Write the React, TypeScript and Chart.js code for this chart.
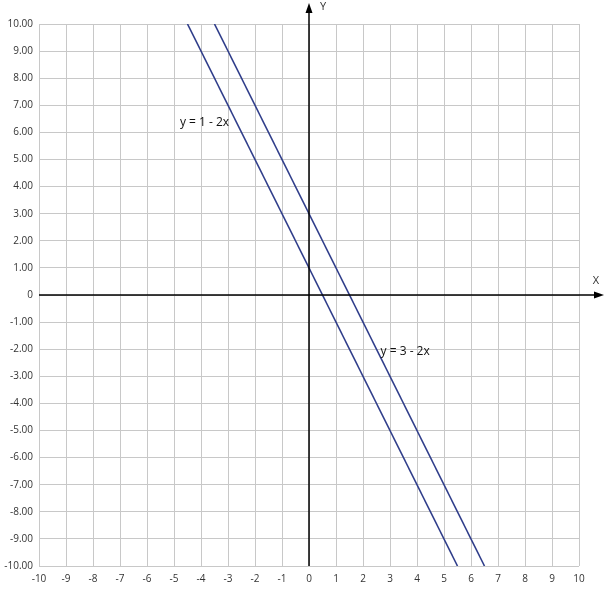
import React, { useEffect, useRef } from "react";
import { Chart, registerables } from "chart.js";

Chart.register(...registerables);

const line1X = [-4.5, 5.5];
const line1Y = [10, -10];
const line2X = [-3.5, 6.5];
const line2Y = [10, -10];
const lineLabels = ["y = 1 - 2x", "y = 3 - 2x"];
const labelX = [-4.78, 2.65];
const labelY = [6.35, -2.07];
const axisMin = -10;
const axisMax = 10;

const FONT = "'Open Sans', 'DejaVu Sans', sans-serif";

const overlay = {
  id: "overlay",
  afterDatasetsDraw(chart: any) {
    const ctx = chart.ctx;
    const xs = chart.scales.x;
    const ys = chart.scales.y;
    const ox = xs.getPixelForValue(0);
    const oy = ys.getPixelForValue(0);
    const ca = chart.chartArea;
    ctx.save();
    ctx.strokeStyle = "#000";
    ctx.fillStyle = "#000";
    ctx.lineWidth = 1.5;
    // x axis
    const xEnd = chart.width - 6;
    ctx.beginPath();
    ctx.moveTo(ca.left, oy);
    ctx.lineTo(xEnd - 6, oy);
    ctx.stroke();
    ctx.beginPath();
    ctx.moveTo(xEnd, oy);
    ctx.lineTo(xEnd - 10, oy - 3.5);
    ctx.lineTo(xEnd - 10, oy + 3.5);
    ctx.closePath();
    ctx.fill();
    // y axis
    const yEnd = 3;
    ctx.beginPath();
    ctx.moveTo(ox, ca.bottom);
    ctx.lineTo(ox, yEnd + 6);
    ctx.stroke();
    ctx.beginPath();
    ctx.moveTo(ox, yEnd);
    ctx.lineTo(ox - 3.5, yEnd + 10);
    ctx.lineTo(ox + 3.5, yEnd + 10);
    ctx.closePath();
    ctx.fill();
    // axis names
    ctx.font = "11px " + FONT;
    ctx.fillStyle = "#333";
    ctx.textAlign = "center";
    ctx.textBaseline = "middle";
    ctx.fillText("X", chart.width - 14, oy - 14);
    ctx.fillText("Y", ox + 14, 7);
    // line labels
    ctx.font = "12px " + FONT;
    ctx.fillStyle = "#111";
    ctx.textAlign = "left";
    for (let i = 0; i < lineLabels.length; i++) {
      ctx.fillText(lineLabels[i], xs.getPixelForValue(labelX[i]), ys.getPixelForValue(labelY[i]));
    }
    ctx.restore();
  },
};

export default function App() {
  const ref = useRef<HTMLCanvasElement>(null);
  useEffect(() => {
    document.body.style.margin = "0";
    const toPts = (xa: number[], ya: number[]) => xa.map((x, i) => ({ x, y: ya[i] }));
    const chart = new Chart(ref.current!, {
      type: "scatter",
      data: {
        datasets: [
          {
            data: toPts(line1X, line1Y),
            showLine: true,
            borderColor: "#2f3d8a",
            borderWidth: 1.6,
            pointRadius: 0,
          },
          {
            data: toPts(line2X, line2Y),
            showLine: true,
            borderColor: "#2f3d8a",
            borderWidth: 1.6,
            pointRadius: 0,
          },
        ],
      },
      options: {
        responsive: false,
        animation: false,
        events: [],
        layout: { padding: { top: 24, right: 31, left: 0, bottom: 0 } },
        plugins: { legend: { display: false }, tooltip: { enabled: false } },
        scales: {
          x: {
            type: "linear",
            min: axisMin,
            max: axisMax,
            border: { display: false },
            grid: { color: "#c8c8c8", lineWidth: 1, drawTicks: false },
            ticks: {
              stepSize: 1,
              padding: 7,
              color: "#333",
              font: { family: FONT, size: 10 },
              maxRotation: 0,
              autoSkip: false,
            },
            afterFit(s: any) {
              s.height = 39;
            },
          },
          y: {
            type: "linear",
            min: axisMin,
            max: axisMax,
            border: { display: false },
            grid: { color: "#c8c8c8", lineWidth: 1, drawTicks: false },
            ticks: {
              stepSize: 1,
              padding: 6,
              color: "#333",
              font: { family: FONT, size: 10 },
              autoSkip: false,
              callback: (v: any) => (Number(v) === 0 ? "0" : Number(v).toFixed(2)),
            },
            afterFit(s: any) {
              s.width = 39;
            },
          },
        },
      },
      plugins: [overlay],
    } as any);
    return () => chart.destroy();
  }, []);
  return (
    <div style={{ position: "fixed", left: 0, top: 0, width: 610, height: 605, background: "#fff" }}>
      <canvas ref={ref} width={610} height={605} />
    </div>
  );
}
